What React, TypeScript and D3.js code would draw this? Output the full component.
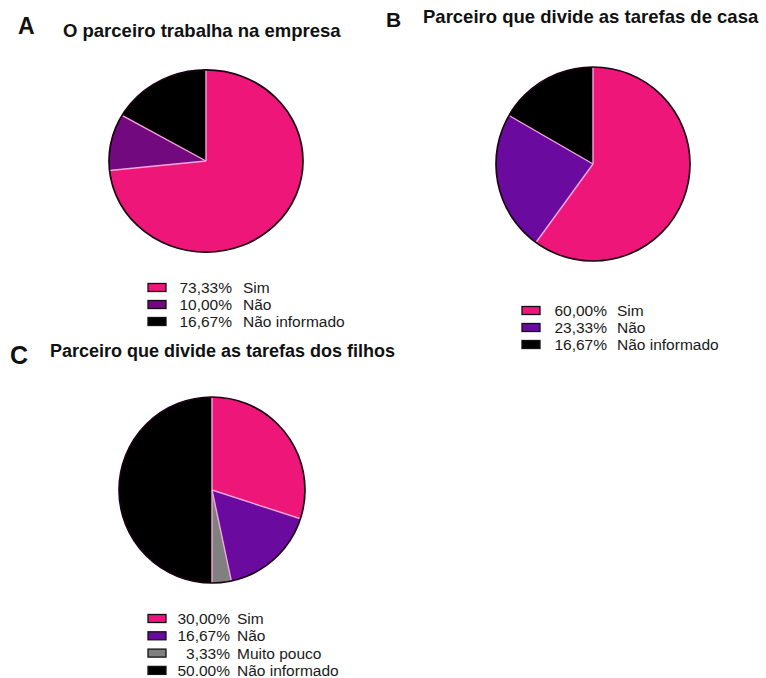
import React from "react";
import * as d3 from "d3";

const categoriesA = ["Sim", "Não", "Não informado"];
const valuesA = [73.33, 10.0, 16.67];
const pctLabelsA = ["73,33%", "10,00%", "16,67%"];
const colorsA = ["#EE1779", "#72097F", "#000000"];

const categoriesB = ["Sim", "Não", "Não informado"];
const valuesB = [60.0, 23.33, 16.67];
const pctLabelsB = ["60,00%", "23,33%", "16,67%"];
const colorsB = ["#EE1779", "#6A0A9E", "#000000"];

const categoriesC = ["Sim", "Não", "Muito pouco", "Não informado"];
const valuesC = [30.0, 16.67, 3.33, 50.0];
const pctLabelsC = ["30,00%", "16,67%", "3,33%", "50.00%"];
const colorsC = ["#EE1779", "#6A0A9E", "#808080", "#000000"];

const FONT = "'Liberation Sans', Arial, Helvetica, sans-serif";

type PieProps = {
  cx: number;
  cy: number;
  r: number;
  sy?: number;
  values: number[];
  colors: string[];
};

function Pie({ cx, cy, r, sy = 1, values, colors }: PieProps) {
  const pie = d3.pie<number>().sort(null).value((d) => d);
  const arcs = pie(values);
  const arc = d3.arc<d3.PieArcDatum<number>>().innerRadius(0).outerRadius(r);
  return (
    <g transform={`translate(${cx},${cy}) scale(1,${sy})`}>
      {arcs.map((a, i) => (
        <path key={i} d={arc(a) || ""} fill={colors[i]} />
      ))}
      {arcs.map((a, i) => (
        <line
          key={"l" + i}
          x1={0}
          y1={0}
          x2={r * Math.sin(a.startAngle)}
          y2={-r * Math.cos(a.startAngle)}
          stroke="#F3A6DA"
          strokeWidth={1.4}
          vectorEffect="non-scaling-stroke"
        />
      ))}
      <circle r={r} fill="none" stroke="#1a0012" strokeWidth={1.7} vectorEffect="non-scaling-stroke" />
    </g>
  );
}

type LegendProps = {
  x: number;
  y: number;
  pctRight: number;
  labelX: number;
  step: number;
  cats: string[];
  pcts: string[];
  colors: string[];
};

function Legend({ x, y, pctRight, labelX, step, cats, pcts, colors }: LegendProps) {
  return (
    <g fontFamily={FONT} fontSize={15.5} fill="#1a1a1a">
      {cats.map((c, i) => (
        <g key={i} transform={`translate(0,${y + i * step})`}>
          <rect x={x} y={-9.5} width={18} height={8} fill={colors[i]} stroke="#111" strokeWidth={1.3} />
          <text x={pctRight} y={0} textAnchor="end">
            {pcts[i]}
          </text>
          <text x={labelX} y={0}>
            {c}
          </text>
        </g>
      ))}
    </g>
  );
}

export default function App() {
  return (
    <svg
      width={766}
      height={678}
      style={{ position: "absolute", left: 0, top: 0, background: "#fff" }}
    >
      <rect width={766} height={678} fill="#fff" />
      <g fontFamily={FONT} fontWeight="bold" fill="#111">
        <text x={18} y={34} fontSize={23}>A</text>
        <text x={63} y={37} fontSize={18.5}>O parceiro trabalha na empresa</text>
        <text x={386} y={27} fontSize={21}>B</text>
        <text x={423} y={23} fontSize={18.5}>Parceiro que divide as tarefas de casa</text>
        <text x={10} y={364} fontSize={25}>C</text>
        <text x={50} y={357} fontSize={18}>Parceiro que divide as tarefas dos filhos</text>
      </g>

      <Pie cx={206} cy={161} r={97} sy={0.94} values={valuesA} colors={colorsA} />
      <Pie cx={593} cy={164} r={97} values={valuesB} colors={colorsB} />
      <Pie cx={212} cy={490} r={93} values={valuesC} colors={colorsC} />

      <Legend x={148} y={293} pctRight={232} labelX={243} step={17} cats={categoriesA} pcts={pctLabelsA} colors={colorsA} />
      <Legend x={522} y={316} pctRight={607} labelX={617} step={17} cats={categoriesB} pcts={pctLabelsB} colors={colorsB} />
      <Legend x={148} y={624} pctRight={230} labelX={237} step={17.3} cats={categoriesC} pcts={pctLabelsC} colors={colorsC} />
    </svg>
  );
}
